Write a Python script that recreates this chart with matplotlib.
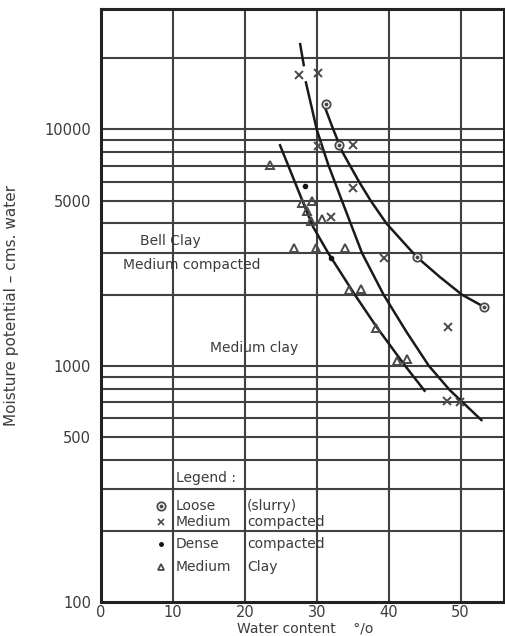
import numpy as np
import matplotlib
matplotlib.use('Agg')
import matplotlib.pyplot as plt

# water content (%) vs moisture potential (cms water), Bell clay samples
loose_w = [31.3, 33.1, 43.9, 53.2]
loose_p = [12800, 8550, 2890, 1780]

medium_w = [27.5, 30.2, 30.2, 35.1, 35.0, 32.0, 39.4, 48.3, 48.1, 49.9]
medium_p = [17000, 17300, 8500, 8590, 5660, 4270, 2850, 1455, 711, 705]

dense_w = [28.4, 32.0]
dense_p = [5750, 2850]

clay_w = [23.5, 27.9, 29.4, 28.6, 29.2, 30.8, 26.9, 29.9, 33.9,
          34.5, 36.1, 38.3, 41.1, 42.6]
clay_p = [7070, 4900, 4980, 4530, 4110, 4160, 3160, 3140, 3160,
          2100, 2120, 1450, 1052, 1070]

# hand-fitted curves
curve_clay_w = [24.9, 28.0, 29.5, 31.6, 35.3, 38.3, 42.3, 45.0]
curve_clay_p = [8570, 5000, 3870, 3000, 2000, 1465, 1000, 785]

curve_med_top_w = [27.7, 28.2]
curve_med_top_p = [22950, 18700]
curve_med_w = [28.5, 29.3, 30.0, 31.6, 33.5, 36.3, 39.3, 42.5, 45.6, 48.5, 52.9]
curve_med_p = [15800, 12400, 10000, 7100, 5000, 3000, 2000, 1390, 1000, 790, 590]

curve_loose_w = [31.2, 32.3, 33.6, 35.9, 37.5, 39.7, 43.9, 47.1, 50.2, 53.2]
curve_loose_p = [12270, 10000, 8000, 6000, 5000, 4000, 2890, 2380, 2000, 1780]

xticks = [0, 10, 20, 30, 40, 50]
yticks = [100, 500, 1000, 5000, 10000]

grey = '#4a4a4a'
txt = '#3c3c3c'

fig = plt.figure(figsize=(5.06, 6.36), dpi=100)
ax = fig.add_axes([101/506, 1-602.3/636, 403/506, (602.3-9)/636])
ax.set_yscale('log')
ax.set_xlim(0, 56.05)
ax.set_ylim(100, 32300)

# grid: full log decades plus the verticals every 10 %
for g in [200, 300, 400, 500, 600, 700, 800, 900, 1000,
          2000, 3000, 4000, 5000, 6000, 7000, 8000, 9000, 10000, 20000]:
    ax.axhline(g, color='#404040', lw=1.5, zorder=1)
for g in [10, 20, 30, 40, 50]:
    ax.axvline(g, color='#404040', lw=1.5, zorder=1)

for s in ax.spines.values():
    s.set_linewidth(2.2)
    s.set_color('#222222')

ax.set_xticks(xticks)
ax.set_xticklabels([str(t) for t in xticks])
ax.set_yticks(yticks)
ax.set_yticklabels([str(t) for t in yticks])
ax.yaxis.set_minor_locator(matplotlib.ticker.NullLocator())
ax.tick_params(length=0, labelsize=10.5, colors=txt)
ax.tick_params(axis='y', pad=7)
ax.tick_params(axis='x', pad=2)

fig.text(305/506, 1-628/636, 'Water content    °/o', fontsize=10,
         color=txt, ha='center', va='center')
ax.set_ylabel('Moisture potential – cms. water', fontsize=11, color=txt)
ax.yaxis.set_label_coords(-0.203, 0.5)

# curves
lk = dict(color='#1a1a1a', lw=1.8, zorder=3)
ax.plot(curve_clay_w, curve_clay_p, **lk)
ax.plot(curve_med_top_w, curve_med_top_p, **lk)
ax.plot(curve_med_w, curve_med_p, **lk)
ax.plot(curve_loose_w, curve_loose_p, **lk)

# measured points
def loose(x, y):
    ax.plot(x, y, 'o', ms=6, mfc='white', mec=grey, mew=1.3, zorder=4)
    ax.plot(x, y, 'o', ms=1.8, color=grey, zorder=5)

loose(loose_w, loose_p)
ax.plot(medium_w, medium_p, 'x', ms=5.5, color=grey, mew=1.4, zorder=4)
ax.plot(dense_w, dense_p, 'o', ms=3, color='#111111', zorder=4)
ax.plot(clay_w, clay_p, '^', ms=5.5, mfc='none', mec=grey, mew=1.4, zorder=4)

# labels on the chart
tk = dict(fontsize=10, color=txt, va='center', ha='left', zorder=6)
ax.text(5.4, 3380, 'Bell Clay', **tk)
ax.text(3.0, 2670, 'Medium compacted', **tk)
ax.text(15.2, 1186, 'Medium clay', **tk)

# legend block
ax.text(10.4, 334, 'Legend :', **tk)
loose([8.3], [255])
ax.plot([8.3], [218], 'x', ms=4.5, color=grey, mew=1.2)
ax.plot([8.3], [176], 'o', ms=2.5, color='#111111')
ax.plot([8.3], [141], '^', ms=5, mfc='none', mec=grey, mew=1.3)
ax.text(10.4, 255, 'Loose', **tk)
ax.text(20.3, 255, '(slurry)', **tk)
ax.text(10.4, 218, 'Medium', **tk)
ax.text(20.3, 218, 'compacted', **tk)
ax.text(10.4, 176, 'Dense', **tk)
ax.text(20.3, 176, 'compacted', **tk)
ax.text(10.4, 141, 'Medium', **tk)
ax.text(20.3, 141, 'Clay', **tk)

fig.savefig('out.png', dpi=100, facecolor='white')
